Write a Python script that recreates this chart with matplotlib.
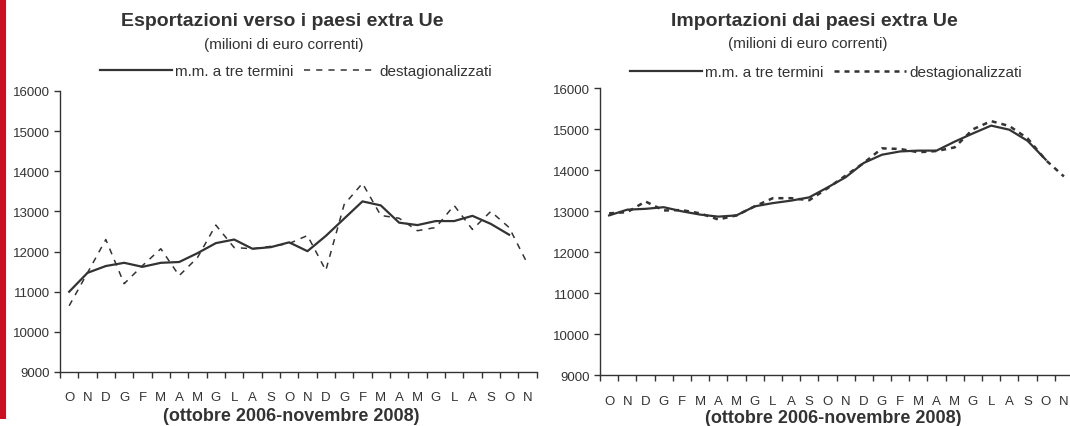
import numpy as np
import matplotlib
matplotlib.use('Agg')
import matplotlib.pyplot as plt
from matplotlib.lines import Line2D
from matplotlib.patches import Rectangle

plt.rcParams['font.family'] = ['Liberation Sans', 'DejaVu Sans']

# mesi da ottobre 2006 a novembre 2008
mesi = ['O', 'N', 'D', 'G', 'F', 'M', 'A', 'M', 'G', 'L', 'A', 'S',
        'O', 'N', 'D', 'G', 'F', 'M', 'A', 'M', 'G', 'L', 'A', 'S', 'O', 'N']

# esportazioni verso i paesi extra Ue (milioni di euro)
exp_dest = [10650, 11470, 12300, 11200, 11650, 12070, 11400, 11850, 12660, 12100,
            12070, 12130, 12200, 12400, 11530, 13170, 13700, 12900, 12830, 12520,
            12600, 13150, 12550, 13000, 12600, 11700]
exp_mm = [11000, 11470, 11640, 11720, 11620, 11720, 11740, 11960, 12210, 12300,
          12070, 12110, 12230, 12010, 12390, 12820, 13250, 13150, 12720, 12660,
          12760, 12760, 12890, 12690, 12420]

# importazioni dai paesi extra Ue (milioni di euro)
imp_dest = [12950, 12980, 13240, 13020, 13030, 12950, 12800, 12900, 13120, 13320,
            13320, 13270, 13560, 13870, 14180, 14535, 14520, 14440, 14470, 14560,
            15000, 15200, 15080, 14780, 14250, 13850]
imp_mm = [12900, 13040, 13060, 13100, 13000, 12920, 12870, 12900, 13120, 13200,
          13260, 13340, 13580, 13830, 14180, 14380, 14460, 14480, 14480, 14700,
          14900, 15090, 14990, 14720, 14260]

GRIGIO = '#333333'
ROSSO = '#c8101e'
W, H = 1070, 427

fig = plt.figure(figsize=(W / 100, H / 100), dpi=100)


def box(x0, y0, x1, y1):
    # rettangolo in pixel (dall'alto) -> coordinate figura
    return [x0 / W, 1 - y1 / H, (x1 - x0) / W, (y1 - y0) / H]


def pannello(rect, dest, mm, dash_lw, dash_pat):
    ax = fig.add_axes(rect)
    ax.plot(np.arange(len(mm)), mm, color=GRIGIO, lw=1.6)
    ax.plot(np.arange(len(dest)), dest, color=GRIGIO, lw=dash_lw, dashes=dash_pat, clip_on=False)
    ax.set_xlim(-0.5, 25.5)
    ax.set_ylim(9000, 16000)
    ax.set_yticks(range(9000, 16001, 1000))
    ax.set_xticks(np.arange(-0.5, 26, 1))
    ax.set_xticklabels([])
    ax.set_xticks(np.arange(len(mesi)), minor=True)
    ax.set_xticklabels(mesi, minor=True)
    ax.tick_params(axis='x', which='major', length=4, width=1, color=GRIGIO)
    ax.tick_params(axis='x', which='minor', length=0, pad=14, labelsize=9.5, labelcolor=GRIGIO)
    ax.tick_params(axis='y', length=4, width=1, color=GRIGIO, labelsize=9.5, labelcolor=GRIGIO, pad=3)
    for s in ['top', 'right']:
        ax.spines[s].set_visible(False)
    for s in ['left', 'bottom']:
        ax.spines[s].set_color(GRIGIO)
        ax.spines[s].set_linewidth(1)
    ax.patch.set_alpha(0)
    return ax


def legenda(cx, cy, dash_lw, dash_pat):
    h1 = Line2D([], [], color=GRIGIO, lw=1.6)
    h2 = Line2D([], [], color=GRIGIO, lw=dash_lw, dashes=dash_pat)
    fig.legend([h1, h2], ['m.m. a tre termini', 'destagionalizzati'], loc='center',
               bbox_to_anchor=(cx / W, 1 - cy / H), ncol=2, frameon=False, fontsize=11,
               handlelength=4.7, handletextpad=0.2, columnspacing=0.7, labelcolor=GRIGIO)


# pannello sinistro: esportazioni
pannello(box(60, 92, 536.6, 373), exp_dest, exp_mm, 1.1, (4, 4))
fig.text(282 / W, 1 - 22 / H, 'Esportazioni verso i paesi extra Ue', ha='center', va='center',
         fontsize=14, fontweight='bold', color=GRIGIO)
fig.text(284 / W, 1 - 45 / H, '(milioni di euro correnti)', ha='center', va='center',
         fontsize=11, color=GRIGIO)
legenda(296, 72, 1.1, (4, 4))
fig.text(291 / W, 1 - 417 / H, '(ottobre 2006-novembre 2008)', ha='center', va='center',
         fontsize=13, fontweight='bold', color=GRIGIO)

# pannello destro: importazioni
pannello(box(600, 89.3, 1073, 376.3), imp_dest, imp_mm, 1.8, (2, 2))
fig.text(814 / W, 1 - 22 / H, 'Importazioni dai paesi extra Ue', ha='center', va='center',
         fontsize=14, fontweight='bold', color=GRIGIO)
fig.text(808 / W, 1 - 44 / H, '(milioni di euro correnti)', ha='center', va='center',
         fontsize=11, color=GRIGIO)
legenda(826, 73, 1.8, (2, 2))
fig.text(833 / W, 1 - 419 / H, '(ottobre 2006-novembre 2008)', ha='center', va='center',
         fontsize=13, fontweight='bold', color=GRIGIO)

# barra rossa a sinistra
fig.add_artist(Rectangle((0, 1 - 420 / H), 6 / W, 420 / H, transform=fig.transFigure,
                         color=ROSSO, lw=0))

fig.savefig('out.png', dpi=100)
